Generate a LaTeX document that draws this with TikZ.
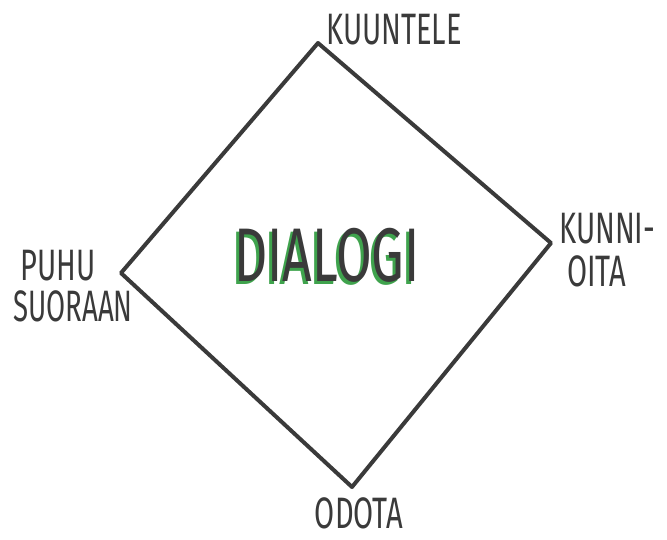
\documentclass[tikz,border=0pt]{standalone}
\usepackage{fontspec}
\newfontfamily\hand[FakeStretch=0.66]{Fira Sans}
\newfontfamily\handbold[FakeStretch=0.68]{Fira Sans}[BoldFont=*]
\definecolor{ink}{HTML}{3A3A3A}
\definecolor{leaf}{HTML}{3FA34D}
\begin{document}
\begin{tikzpicture}[x=1pt,y=-1pt,
  lbl/.style={text=ink,font=\hand\fontsize{44}{40}\selectfont,inner sep=0pt,align=center},
  edge/.style={draw=ink,line width=4pt,line join=round,line cap=round}]
\useasboundingbox (0,0) rectangle (667,539);
\coordinate (t) at (318,43);
\coordinate (r) at (551,243);
\coordinate (b) at (352,487);
\coordinate (l) at (121,273);
\draw[edge] (t) -- (r) -- (b) -- (l) -- cycle;
\node[lbl,anchor=base] (kuuntele) at (394,44) {KUUNTELE};
\node[lbl,anchor=base west] (kunni) at (559,243) {KUNNI-};
\node[lbl,anchor=base west] (oita) at (567,286) {OITA};
\node[lbl,anchor=base] (puhu) at (58,280) {PUHU};
\node[lbl,anchor=base,xscale=0.95] (suoraan) at (73,321) {SUORAAN};
\node[lbl,anchor=base] (odota) at (359,528) {ODOTA};
\node[text=ink,font=\handbold\bfseries\fontsize{76}{76}\selectfont,anchor=base,inner sep=0pt] (dialogi) at (327,281)
  {\rlap{\kern-3pt\raisebox{-3pt}{\color{leaf}DIALOGI}}DIALOGI};
\end{tikzpicture}
\end{document}
